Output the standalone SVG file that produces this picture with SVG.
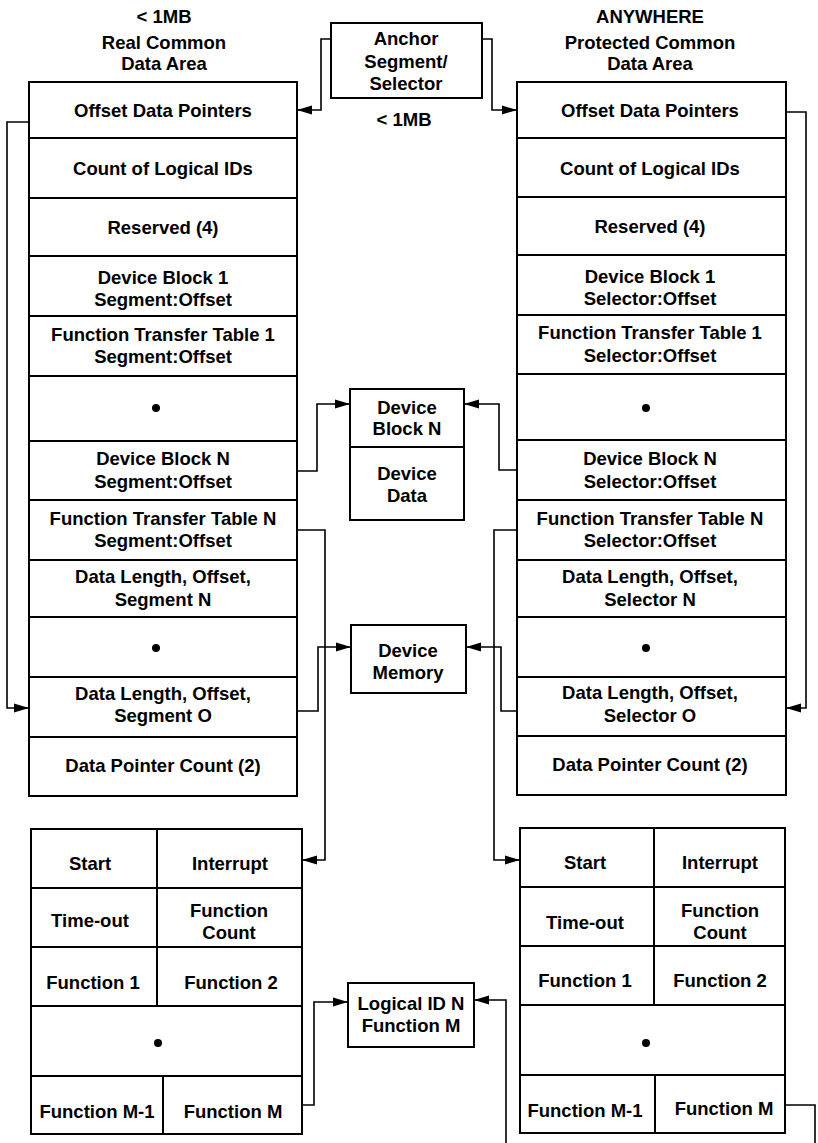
<svg xmlns="http://www.w3.org/2000/svg" width="818" height="1143" viewBox="0 0 818 1143">
<style>
.b{fill:#fff;stroke:#000;stroke-width:2}
.l{fill:none;stroke:#000;stroke-width:2}
.c{fill:none;stroke:#000;stroke-width:1.6}
text{font-family:"Liberation Sans",Arial,Helvetica,sans-serif;font-weight:bold;font-size:18.5px;text-anchor:middle;fill:#000}
</style>
<defs>
<marker id="ah" markerUnits="userSpaceOnUse" markerWidth="16" markerHeight="10" refX="15" refY="5" orient="auto">
<path d="M0,0.5 L15,5 L0,9.5 z" fill="#000"/>
</marker>
</defs>
<rect width="818" height="1143" fill="#fff"/>

<g id="header-left">
<text x="164" y="23">&lt; 1MB</text>
<text x="164" y="48.5">Real Common</text>
<text x="164" y="69.5">Data Area</text>
</g>
<g id="header-right">
<text x="650" y="23">ANYWHERE</text>
<text x="650" y="48.5">Protected Common</text>
<text x="650" y="69.5">Data Area</text>
</g>

<g id="anchor">
<rect class="b" x="331" y="23" width="151" height="75"/>
<text x="406" y="44.5">Anchor</text>
<text x="406" y="68">Segment/</text>
<text x="406" y="90">Selector</text>
<text x="404" y="126">&lt; 1MB</text>
</g>

<g id="real-table">
<rect class="b" x="29" y="82" width="268" height="714"/>
<path class="l" d="M29,138H297M29,198H297M29,256H297M29,316H297M29,376H297M29,441H297M29,500H297M29,560H297M29,617H297M29,677H297M29,737H297"/>
<text x="163" y="116.5">Offset Data Pointers</text>
<text x="163" y="174.5">Count of Logical IDs</text>
<text x="163" y="233.5">Reserved (4)</text>
<text x="163" y="283.5">Device Block 1</text>
<text x="163" y="305.5">Segment:Offset</text>
<text x="163" y="340.5">Function Transfer Table 1</text>
<text x="163" y="363">Segment:Offset</text>
<circle cx="156" cy="408" r="4"/>
<text x="163" y="465">Device Block N</text>
<text x="163" y="487.5">Segment:Offset</text>
<text x="163" y="524.5">Function Transfer Table N</text>
<text x="163" y="547">Segment:Offset</text>
<text x="163" y="583">Data Length, Offset,</text>
<text x="163" y="605.5">Segment N</text>
<circle cx="156" cy="648" r="4"/>
<text x="163" y="700">Data Length, Offset,</text>
<text x="163" y="722">Segment O</text>
<text x="163" y="772">Data Pointer Count (2)</text>
</g>

<g id="protected-table">
<rect class="b" x="517" y="82" width="269" height="713"/>
<path class="l" d="M517,138H786M517,197H786M517,255H786M517,315H786M517,374H786M517,440H786M517,500H786M517,560H786M517,617H786M517,677H786M517,736H786"/>
<text x="650" y="116.5">Offset Data Pointers</text>
<text x="650" y="174.5">Count of Logical IDs</text>
<text x="650" y="232.5">Reserved (4)</text>
<text x="650" y="282.5">Device Block 1</text>
<text x="650" y="304.5">Selector:Offset</text>
<text x="650" y="339">Function Transfer Table 1</text>
<text x="650" y="361.5">Selector:Offset</text>
<circle cx="646" cy="408" r="4"/>
<text x="650" y="465">Device Block N</text>
<text x="650" y="487.5">Selector:Offset</text>
<text x="650" y="524.5">Function Transfer Table N</text>
<text x="650" y="547">Selector:Offset</text>
<text x="650" y="583">Data Length, Offset,</text>
<text x="650" y="605.5">Selector N</text>
<circle cx="646" cy="648" r="4"/>
<text x="650" y="699">Data Length, Offset,</text>
<text x="650" y="721.5">Selector O</text>
<text x="650" y="771">Data Pointer Count (2)</text>
</g>

<g id="device-block">
<rect class="b" x="350" y="389" width="114" height="131"/>
<path class="l" d="M350,447H464"/>
<text x="407" y="413.5">Device</text>
<text x="407" y="435">Block N</text>
<text x="407" y="479.5">Device</text>
<text x="407" y="501.5">Data</text>
</g>

<g id="device-memory">
<rect class="b" x="351" y="625" width="115" height="68"/>
<text x="408" y="656.5">Device</text>
<text x="408" y="678.5">Memory</text>
</g>

<g id="logical-id">
<rect class="b" x="348" y="983" width="126" height="64"/>
<text x="411" y="1009.5">Logical ID N</text>
<text x="411" y="1031.5">Function M</text>
</g>

<g id="ftt-left">
<rect class="b" x="31" y="829" width="271" height="305"/>
<path class="l" d="M31,888H302M31,947H302M31,1006H302M31,1076H302M157,829V1006M163,1076V1134"/>
<text x="90" y="869.5">Start</text>
<text x="230" y="869.5">Interrupt</text>
<text x="90" y="926.5">Time-out</text>
<text x="229" y="916.5">Function</text>
<text x="229" y="938.5">Count</text>
<text x="93" y="988.5">Function 1</text>
<text x="231" y="988.5">Function 2</text>
<circle cx="158" cy="1043" r="4"/>
<text x="97" y="1117.5">Function M-1</text>
<text x="233" y="1117.5">Function M</text>
</g>

<g id="ftt-right">
<rect class="b" x="520" y="828" width="265" height="305"/>
<path class="l" d="M520,887H785M520,946H785M520,1005H785M520,1075H785M654,828V1005M655,1075V1133"/>
<text x="585" y="868.5">Start</text>
<text x="720" y="868.5">Interrupt</text>
<text x="585" y="928.5">Time-out</text>
<text x="720" y="916.5">Function</text>
<text x="720" y="938.5">Count</text>
<text x="585" y="986.5">Function 1</text>
<text x="720" y="986.5">Function 2</text>
<circle cx="646" cy="1043" r="4"/>
<text x="585" y="1116.5">Function M-1</text>
<text x="724" y="1114.5">Function M</text>
</g>

<g id="connectors">
<polyline class="c" points="331,39 321,39 321,110 297,110" marker-end="url(#ah)"/>
<polyline class="c" points="482,39 492,39 492,110 517,110" marker-end="url(#ah)"/>
<polyline class="c" points="29,122 7,122 7,708 29,708" marker-end="url(#ah)"/>
<polyline class="c" points="786,112 806,112 806,708 786,708" marker-end="url(#ah)"/>
<polyline class="c" points="297,471 317,471 317,404 350,404" marker-end="url(#ah)"/>
<polyline class="c" points="517,470 499,470 499,404 464,404" marker-end="url(#ah)"/>
<polyline class="c" points="297,530 325,530 325,860 302,860" marker-end="url(#ah)"/>
<polyline class="c" points="517,530 494,530 494,860 520,860" marker-end="url(#ah)"/>
<polyline class="c" points="297,711 318,711 318,647 351,647" marker-end="url(#ah)"/>
<polyline class="c" points="517,711 501,711 501,647 466,647" marker-end="url(#ah)"/>
<polyline class="c" points="302,1105 314,1105 314,1002 348,1002" marker-end="url(#ah)"/>
<polyline class="c" points="506,1143 506,1000 474,1000" marker-end="url(#ah)"/>
<polyline class="c" points="785,1105 815,1105 815,1143"/>
</g>
</svg>
